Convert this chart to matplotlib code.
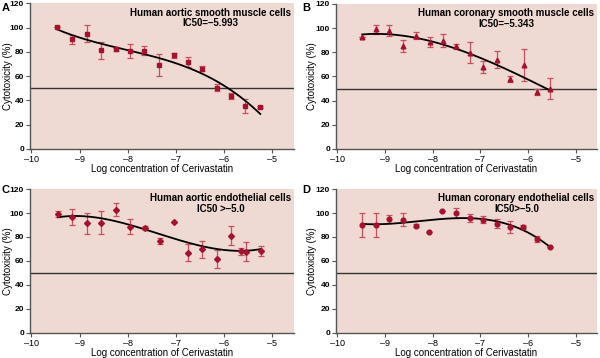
import numpy as np
import matplotlib
matplotlib.use("Agg")
import matplotlib.pyplot as plt

plt.rcParams['font.family'] = ['Liberation Sans', 'DejaVu Sans']

# Panel A - human aortic smooth muscle cells (squares)
a_x = [-9.46, -9.15, -8.85, -8.55, -8.25, -7.95, -7.66, -7.35, -7.05, -6.74, -6.45, -6.15, -5.86, -5.56, -5.25]
a_y = [100.5, 90.2, 95.0, 81.4, 82.0, 80.8, 81.0, 69.0, 77.0, 71.5, 66.0, 50.5, 43.5, 35.3, 34.5]
a_err = [0.0, 3.5, 7.0, 7.0, 1.5, 6.0, 4.0, 9.0, 2.0, 4.0, 2.0, 3.0, 2.5, 5.5, 1.0]

# Panel B - human coronary smooth muscle cells (triangles)
b_x = [-9.48, -9.19, -8.91, -8.62, -8.34, -8.06, -7.78, -7.50, -7.22, -6.94, -6.65, -6.37, -6.09, -5.82, -5.54]
b_y = [92.8, 99.0, 98.0, 85.0, 93.6, 88.6, 89.7, 85.0, 79.5, 68.0, 73.8, 58.0, 69.4, 47.5, 50.0]
b_err = [0.0, 3.5, 4.5, 5.0, 3.0, 4.0, 5.5, 2.0, 8.7, 5.0, 7.0, 2.3, 13.0, 2.5, 9.0]

# Panel C - human aortic endothelial cells (diamonds)
c_x = [-9.45, -9.15, -8.85, -8.55, -8.25, -7.95, -7.65, -7.34, -7.05, -6.75, -6.45, -6.15, -5.86, -5.65, -5.54, -5.24]
c_y = [99.2, 96.7, 91.5, 92.0, 102.8, 88.7, 87.3, 76.5, 92.6, 66.8, 69.8, 61.5, 81.2, 68.0, 67.6, 68.5]
c_err = [2.8, 7.0, 8.7, 9.7, 5.3, 6.2, 1.5, 2.6, 0.0, 7.0, 7.0, 7.5, 7.6, 3.2, 8.0, 4.4]

# Panel D - human coronary endothelial cells (circles)
d_x = [-9.48, -9.20, -8.91, -8.63, -8.35, -8.07, -7.80, -7.51, -7.22, -6.95, -6.65, -6.38, -6.10, -5.82, -5.53]
d_y = [90.0, 90.0, 95.0, 94.2, 89.5, 84.0, 101.4, 100.3, 95.6, 94.5, 91.2, 88.4, 88.4, 78.4, 71.8]
d_err = [10.0, 10.0, 3.7, 5.4, 1.4, 0.0, 0.0, 4.2, 3.3, 2.6, 3.8, 5.0, 1.7, 2.6, 0.0]

panels = [
    ('A', a_x, a_y, a_err, 's', 'Human aortic smooth muscle cells\nIC50=\u20135.993'),
    ('B', b_x, b_y, b_err, '^', 'Human coronary smooth muscle cells\nIC50=\u20135.343'),
    ('C', c_x, c_y, c_err, 'D', 'Human aortic endothelial cells\nIC50 >\u20135.0'),
    ('D', d_x, d_y, d_err, 'o', 'Human coronary endothelial cells\nIC50>\u20135.0'),
]

# axes boxes [left, bottom, width, height] in figure fractions
boxes = [
    [0.050, 0.584, 0.440, 0.407],
    [0.560, 0.584, 0.435, 0.405],
    [0.050, 0.070, 0.440, 0.402],
    [0.560, 0.070, 0.435, 0.402],
]
ylabel_x = [-0.066, -0.074, -0.066, -0.074]
letter_pos = [(0.003, 0.978), (0.503, 0.978), (0.003, 0.469), (0.503, 0.469)]

bg = '#efd9d3'
marker_col = '#a8102e'
err_col = '#c8505c'

fig = plt.figure(figsize=(6, 3.58), dpi=100)

for (letter, x, y, err, mk, title), box, lx, lpos in zip(panels, boxes, ylabel_x, letter_pos):
    ax = fig.add_axes(box)
    ax.set_facecolor(bg)

    # cubic trend line through the data
    coef = np.polyfit(x, y, 3)
    xs = np.linspace(min(x), max(x), 200)
    ax.plot(xs, np.polyval(coef, xs), color='black', lw=1.3, zorder=3)

    ax.errorbar(x, y, yerr=err, fmt='none', ecolor=err_col, elinewidth=0.9,
                capsize=2.5, capthick=0.9, zorder=2)
    ax.plot(x, y, linestyle='none', marker=mk, ms=3.4 if mk != 'D' else 3.0,
            color=marker_col, zorder=4)

    ax.axhline(50, color='#333333', lw=1.0, zorder=1)

    ax.set_xlim(-10.03, -4.55)
    ax.set_ylim(0, 120)
    ax.set_xticks([-10, -9, -8, -7, -6, -5])
    ax.set_xticklabels(['\u201310', '\u20139', '\u20138', '\u20137', '\u20136', '\u20135'])
    ax.set_yticks([0, 20, 40, 60, 80, 100, 120])

    for side in ['top', 'right']:
        ax.spines[side].set_visible(False)
    for side in ['left', 'bottom']:
        ax.spines[side].set_color('#555555')
        ax.spines[side].set_linewidth(1.0)
    ax.tick_params(direction='out', length=3, width=0.8, color='#555555', pad=1.2)
    ax.tick_params(axis='x', labelsize=6.5)
    ax.tick_params(axis='y', labelsize=6)
    for lab in ax.get_yticklabels():
        lab.set_fontweight('bold')

    ax.set_xlabel('Log concentration of Cerivastatin', fontsize=7, labelpad=0.5)
    ax.set_ylabel('Cytotoxicity (%)', fontsize=7)
    ax.yaxis.set_label_coords(lx, 0.5)

    ax.text(0.99, 0.97, title, transform=ax.transAxes, ha='right', va='top',
            multialignment='center', fontsize=7, fontweight='bold', linespacing=1.05)

    fig.text(lpos[0], lpos[1], letter, fontsize=8, fontweight='bold',
             ha='left', va='center')

fig.savefig('out.png', dpi=100)
